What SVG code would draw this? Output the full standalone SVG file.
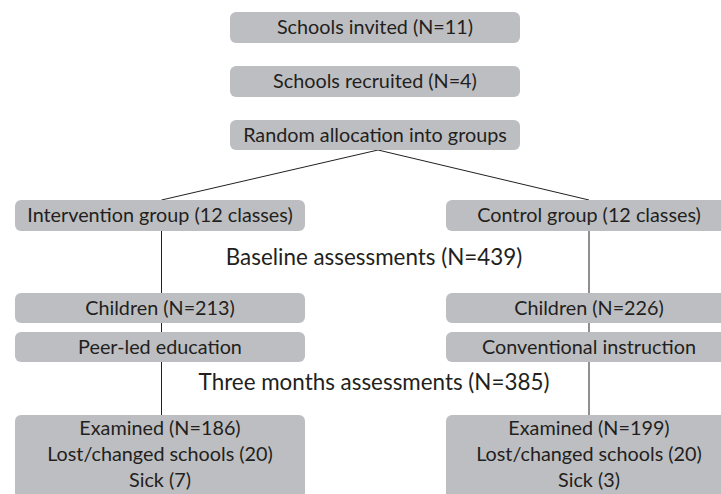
<svg xmlns="http://www.w3.org/2000/svg" width="721" height="494" viewBox="0 0 721 494">
<style>
.box{fill:#bdbec1}
.t{font-family:Lato,"Open Sans",sans-serif;font-size:19.8px;fill:#231f20;text-anchor:middle}
.l{font-size:22.4px}
.c{stroke:#231f20;stroke-width:1;fill:none}
</style>
<rect width="721" height="494" fill="#fff"/>
<g id="connectors">
<line class="c" x1="378" y1="150" x2="161.5" y2="200"/>
<line class="c" x1="378" y1="150" x2="589" y2="200"/>
<line class="c" x1="161.5" y1="231" x2="161.5" y2="293"/>
<line class="c" x1="161.5" y1="323" x2="161.5" y2="332"/>
<line class="c" x1="161.5" y1="362" x2="161.5" y2="415"/>
<line class="c" x1="589" y1="231" x2="589" y2="293"/>
<line class="c" x1="589" y1="323" x2="589" y2="332"/>
<line class="c" x1="589" y1="362" x2="589" y2="415"/>
</g>
<g id="invited"><rect class="box" x="230" y="12" width="290" height="31" rx="6"/><text class="t" x="375" y="34">Schools invited (N=11)</text></g>
<g id="recruited"><rect class="box" x="230" y="66" width="290" height="31" rx="6"/><text class="t" x="375" y="88">Schools recruited (N=4)</text></g>
<g id="random"><rect class="box" x="230" y="120" width="290" height="30" rx="6"/><text class="t" x="375" y="142">Random allocation into groups</text></g>
<g id="intervention"><rect class="box" x="15" y="200" width="290" height="31" rx="6"/><text class="t" x="160" y="222">Intervention group (12 classes)</text></g>
<g id="control"><rect class="box" x="446" y="200" width="290" height="31" rx="6"/><text class="t" x="589" y="222">Control group (12 classes)</text></g>
<g id="baseline"><text class="t l" x="374" y="265">Baseline assessments (N=439)</text></g>
<g id="children1"><rect class="box" x="15" y="293" width="290" height="30" rx="6"/><text class="t" x="160" y="315">Children (N=213)</text></g>
<g id="children2"><rect class="box" x="446" y="293" width="290" height="30" rx="6"/><text class="t" x="589" y="315">Children (N=226)</text></g>
<g id="peer"><rect class="box" x="15" y="332" width="290" height="30" rx="6"/><text class="t" x="160" y="354">Peer-led education</text></g>
<g id="conventional"><rect class="box" x="446" y="332" width="290" height="30" rx="6"/><text class="t" x="589" y="354">Conventional instruction</text></g>
<g id="threemonths"><text class="t l" x="374" y="390">Three months assessments (N=385)</text></g>
<g id="examined1"><rect class="box" x="15" y="415" width="290" height="90" rx="6"/>
<text class="t" x="160" y="435">Examined (N=186)</text><text class="t" x="160" y="461">Lost/changed schools (20)</text><text class="t" x="160" y="487">Sick (7)</text></g>
<g id="examined2"><rect class="box" x="446" y="415" width="290" height="90" rx="6"/>
<text class="t" x="589" y="435">Examined (N=199)</text><text class="t" x="589" y="461">Lost/changed schools (20)</text><text class="t" x="589" y="487">Sick (3)</text></g>
</svg>
